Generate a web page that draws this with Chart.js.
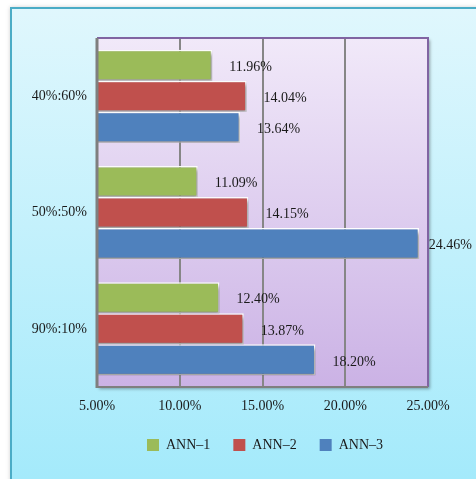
<!DOCTYPE html>
<html>
<head>
<meta charset="utf-8">
<script src="https://cdn.jsdelivr.net/npm/chart.js@4/dist/chart.umd.min.js"></script>
<style>
  html, body { margin: 0; padding: 0; background: #ffffff; }
  #wrap { width: 476px; height: 479px; }
</style>
</head>
<body>
<div id="wrap"><canvas id="c" width="476" height="479"></canvas></div>
<script>
// Ratio groups and the error of each model
const categories = ['40%:60%', '50%:50%', '90%:10%'];
const seriesNames = ['ANN\u20131', 'ANN\u20132', 'ANN\u20133'];
const ann1 = [11.96, 11.09, 12.40];
const ann2 = [14.04, 14.15, 13.87];
const ann3 = [13.64, 24.46, 18.20];
const axisMin = 5, axisMax = 25, axisStep = 5;

const colors = ['#9BBB59', '#C0504D', '#4F81BD'];
const FONT = "'Liberation Serif', 'Times New Roman', serif";
const pct = v => Number(v).toFixed(2) + '%';

// Outer panel and plot-area backgrounds
const backdrop = {
  id: 'backdrop',
  afterLayout(chart) {
    // centre the legend under the panel rather than the whole canvas
    const L = chart.legend;
    if (L) { L.left += 51; L.right += 51; }
  },
  beforeDraw(chart) {
    const ctx = chart.ctx, W = chart.width, H = chart.height;
    const a = chart.chartArea;
    ctx.save();
    // panel
    const g = ctx.createLinearGradient(0, 7, 0, H);
    g.addColorStop(0, '#E0F7FD');
    g.addColorStop(1, '#A4EAFB');
    ctx.shadowColor = 'rgba(0,0,0,0.18)';
    ctx.shadowBlur = 4;
    ctx.shadowOffsetX = -1;
    ctx.fillStyle = g;
    ctx.fillRect(11, 7, W - 11 + 10, H - 7 + 10);
    ctx.shadowColor = 'transparent';
    ctx.strokeStyle = '#4BACC6';
    ctx.lineWidth = 2;
    ctx.beginPath();
    ctx.moveTo(11, H + 5);
    ctx.lineTo(11, 8);
    ctx.lineTo(W + 5, 8);
    ctx.stroke();
    // plot area
    const pg = ctx.createLinearGradient(0, a.top, 0, a.bottom);
    pg.addColorStop(0, '#F1E9F9');
    pg.addColorStop(1, '#CBB2E5');
    ctx.shadowColor = 'rgba(0,0,0,0.35)';
    ctx.shadowBlur = 3;
    ctx.shadowOffsetX = 2;
    ctx.shadowOffsetY = 2;
    ctx.fillStyle = pg;
    ctx.fillRect(a.left, a.top, a.right - a.left, a.bottom - a.top);
    ctx.restore();
  },
  afterDraw(chart) {
    const ctx = chart.ctx, a = chart.chartArea;
    ctx.save();
    ctx.lineWidth = 2;
    ctx.strokeStyle = '#8064A2';
    ctx.beginPath();
    ctx.moveTo(a.left, a.top);
    ctx.lineTo(a.right, a.top);
    ctx.lineTo(a.right, a.bottom);
    ctx.stroke();
    ctx.strokeStyle = '#7F7F7F';
    ctx.beginPath();
    ctx.moveTo(a.left, a.bottom);
    ctx.lineTo(a.right, a.bottom);
    ctx.stroke();
    ctx.lineWidth = 3;
    ctx.beginPath();
    ctx.moveTo(a.left, a.top);
    ctx.lineTo(a.left, a.bottom + 1);
    ctx.stroke();
    ctx.restore();
  }
};

// Soft drop shadow under the bars
const barShadow = {
  id: 'barShadow',
  beforeDatasetsDraw(chart) {
    const ctx = chart.ctx;
    ctx.save();
    ctx.shadowColor = 'rgba(0,0,0,0.4)';
    ctx.shadowBlur = 4;
    ctx.shadowOffsetX = 2;
    ctx.shadowOffsetY = 3;
  },
  afterDatasetsDraw(chart) {
    chart.ctx.restore();
  }
};

// Value labels just past the end of each bar
const valueLabels = {
  id: 'valueLabels',
  afterDatasetsDraw(chart) {
    const ctx = chart.ctx;
    ctx.save();
    ctx.font = '14px ' + FONT;
    ctx.fillStyle = '#1A1A1A';
    ctx.textBaseline = 'middle';
    ctx.textAlign = 'left';
    chart.data.datasets.forEach((ds, i) => {
      const meta = chart.getDatasetMeta(i);
      meta.data.forEach((bar, j) => {
        const txt = pct(ds.data[j]);
        const w = ctx.measureText(txt).width;
        let x = bar.x + 17;
        x = Math.min(x, chart.width - 4 - w);
        ctx.fillText(txt, x, bar.y + 2);
      });
    });
    ctx.restore();
  }
};

const datasets = [ann1, ann2, ann3].map((vals, i) => ({
  label: seriesNames[i],
  data: vals,
  backgroundColor: colors[i],
  borderColor: '#FFFFFF',
  borderWidth: 1.5,
  borderSkipped: false,
  categoryPercentage: 0.8,
  barPercentage: 1.0
}));

new Chart(document.getElementById('c'), {
  type: 'bar',
  data: { labels: categories, datasets },
  plugins: [backdrop, barShadow, valueLabels],
  options: {
    indexAxis: 'y',
    responsive: false,
    animation: false,
    devicePixelRatio: 1,
    layout: { padding: { left: 0, top: 38, right: 48, bottom: 17 } },
    plugins: {
      tooltip: { enabled: false },
      legend: {
        position: 'bottom',
        labels: {
          boxWidth: 12,
          boxHeight: 12,
          padding: 23,
          color: '#1A1A1A',
          font: { family: FONT, size: 14 },
          generateLabels: chart =>
            Chart.defaults.plugins.legend.labels.generateLabels(chart)
              .map(l => Object.assign(l, { strokeStyle: l.fillStyle, lineWidth: 0 }))
        }
      }
    },
    scales: {
      x: {
        min: axisMin,
        max: axisMax,
        afterFit(s) { s.height = 28; },
        ticks: {
          stepSize: axisStep,
          padding: 11,
          color: '#1A1A1A',
          font: { family: FONT, size: 14 },
          callback: v => pct(v)
        },
        grid: {
          drawTicks: false,
          lineWidth: 2,
          color: ctx => (ctx.tick && (ctx.tick.value === axisMin || ctx.tick.value === axisMax)) ? 'rgba(0,0,0,0)' : '#868686'
        },
        border: { display: false }
      },
      y: {
        afterFit(s) { s.width = 97; },
        ticks: {
          padding: 10,
          color: '#1A1A1A',
          font: { family: FONT, size: 14 }
        },
        grid: { display: false, drawTicks: false },
        border: { display: false }
      }
    }
  }
});
</script>
</body>
</html>
